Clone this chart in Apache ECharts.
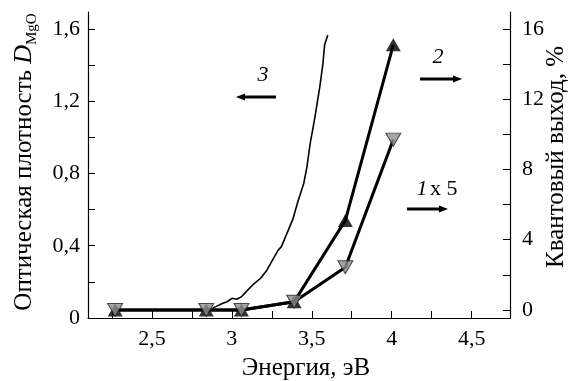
<!DOCTYPE html>
<html>
<head>
<meta charset="utf-8">
<script src="https://cdn.jsdelivr.net/npm/echarts@6/dist/echarts.min.js"></script>
<style>
  html, body { margin: 0; padding: 0; background: #fff; }
  #chart { width: 576px; height: 381px; }
</style>
</head>
<body>
<div id="chart"></div>
<script>
// точки квантового выхода (правая ось)
const energy = [2.27, 2.84, 3.06, 3.39, 3.71, 4.01];
const yield2 = [0, 0, 0, 0.47, 5.1, 15.1];
const yield1x5 = [0, 0, 0, 0.47, 2.43, 9.7];

// кривая 3 - оптическая плотность (левая ось)
const energy3 = [2.88, 2.90, 2.94, 2.97, 3.00, 3.03, 3.06, 3.09, 3.13, 3.18, 3.22, 3.26, 3.29,
                 3.31, 3.34, 3.38, 3.41, 3.45, 3.47, 3.49, 3.52, 3.55, 3.57, 3.58, 3.60];
const density3 = [0.055, 0.063, 0.08, 0.09, 0.109, 0.104, 0.118, 0.146, 0.183, 0.22, 0.266, 0.33, 0.376,
                  0.395, 0.459, 0.543, 0.635, 0.746, 0.838, 0.967, 1.114, 1.28, 1.41, 1.511, 1.567];

// подписи и деления осей
const xLabels = [2.5, 3, 3.5, 4, 4.5];
const xTicks = [2.25, 2.5, 2.75, 3, 3.25, 3.5, 3.75, 4, 4.25, 4.5];
const leftLabels = [0, 0.4, 0.8, 1.2, 1.6];
const leftTicks = [0, 0.2, 0.4, 0.6, 0.8, 1.0, 1.2, 1.4, 1.6];
const rightLabels = [0, 4, 8, 12, 16];
const rightTicks = [0, 2, 4, 6, 8, 10, 12, 14, 16];

const pair = (xs, ys) => xs.map((x, i) => [x, ys[i]]);
const comma = v => String(v).replace('.', ',');

let serifFamily = 'Liberation Serif';
let myChart = echarts.init(document.getElementById('chart'));

// ширина текста для сборки подписи левой оси
let measureCtx = document.createElement('canvas').getContext('2d');
let measure = function (txt, size, style) {
    measureCtx.font = (style || 'normal') + ' ' + size + 'px "Liberation Serif"';
    return measureCtx.measureText(txt).width;
};
let titleMain = 'Оптическая плотность ';
let wMain = measure(titleMain, 25);
let wD = measure('D', 26, 'italic');
let wSub = measure('MgO', 15);
let titleStart = 162 + (wMain + wD + wSub) / 2;

let axisCommon = {
    splitLine: {show: false},
    axisLine: {show: true, lineStyle: {color: '#000', width: 1.2}},
    axisTick: {inside: true, length: 7, lineStyle: {color: '#000', width: 1}},
    axisLabel: {color: '#000', fontFamily: serifFamily, fontStyle: 'normal', fontWeight: 'normal', fontSize: 22, formatter: comma}
};

let arrow = function (x1, x2, y) {
    let dir = x2 > x1 ? 1 : -1;
    return [
        {type: 'line', shape: {x1: x1, y1: y, x2: x2 - dir * 6, y2: y}, style: {stroke: '#000', lineWidth: 2.8}},
        {type: 'polygon', shape: {points: [[x2, y], [x2 - dir * 9, y - 3.5], [x2 - dir * 9, y + 3.5]]}, style: {fill: '#000'}}
    ];
};

let label = function (x, y, txt, size, italic, align) {
    return {type: 'text', x: x, y: y, style: {
        text: txt, fontFamily: serifFamily, fontSize: size, fontStyle: italic ? 'italic' : 'normal',
        fontWeight: 'normal', fill: '#000', align: align || 'center', verticalAlign: 'middle'
    }};
};

let vlabel = function (x, y, txt, size, italic, align) {
    let el = label(x, y, txt, size, italic, align || 'left');
    el.rotation = Math.PI / 2;
    return el;
};

let option = {
    backgroundColor: '#fff',
    animation: false,
    grid: {left: 88, right: 66, top: 12, bottom: 63},
    xAxis: Object.assign({}, axisCommon, {
        type: 'value', min: 2.1, max: 4.74,
        axisTick: Object.assign({}, axisCommon.axisTick, {customValues: xTicks}),
        axisLabel: Object.assign({}, axisCommon.axisLabel, {customValues: xLabels, margin: 10})
    }),
    yAxis: [
        Object.assign({}, axisCommon, {
            type: 'value', position: 'left', min: 0, max: 1.694,
            axisTick: Object.assign({}, axisCommon.axisTick, {customValues: leftTicks}),
            axisLabel: Object.assign({}, axisCommon.axisLabel, {customValues: leftLabels, margin: 8})
        }),
        Object.assign({}, axisCommon, {
            type: 'value', position: 'right', min: -0.46, max: 16.97,
            axisTick: Object.assign({}, axisCommon.axisTick, {customValues: rightTicks}),
            axisLabel: Object.assign({}, axisCommon.axisLabel, {customValues: rightLabels, margin: 12})
        })
    ],
    graphic: [
        // названия осей
        label(306, 368, 'Энергия, эВ', 25, false),
        vlabel(556, 157, 'Квантовый выход, %', 25, false, 'center'),
        vlabel(24, titleStart, titleMain, 25, false),
        vlabel(24, titleStart - wMain, 'D', 26, true),
        vlabel(32, titleStart - wMain - wD, 'MgO', 15, false),
        // номера кривых
        label(263, 75, '3', 22, true),
        label(438, 57, '2', 22, true),
        label(422, 189, '1', 22, true),
        label(430, 189, 'x 5', 22, false, 'left')
    ].concat(arrow(276, 236, 97), arrow(420, 462, 79), arrow(407, 448, 209)),
    series: [
        {
            type: 'line', xAxisIndex: 0, yAxisIndex: 0, data: pair(energy3, density3),
            showSymbol: false, smooth: false, lineStyle: {color: '#000', width: 1.6}, z: 2
        },
        {
            type: 'line', yAxisIndex: 1, data: pair(energy, yield2),
            showSymbol: false, lineStyle: {color: '#000', width: 3}, z: 2
        },
        {
            type: 'line', yAxisIndex: 1, data: pair(energy, yield1x5),
            showSymbol: false, lineStyle: {color: '#000', width: 3}, z: 2
        },
        {
            type: 'scatter', yAxisIndex: 1, data: pair(energy, yield2),
            symbol: 'triangle', symbolSize: [15, 13], itemStyle: {color: '#000'}, z: 3
        },
        {
            type: 'scatter', yAxisIndex: 1, data: pair(energy, yield1x5),
            symbol: 'triangle', symbolRotate: 180, symbolSize: [15, 13],
            itemStyle: {color: '#8e8e8e', borderColor: '#222', borderWidth: 1}, z: 4
        }
    ]
};
myChart.setOption(option);
</script>
</body>
</html>
